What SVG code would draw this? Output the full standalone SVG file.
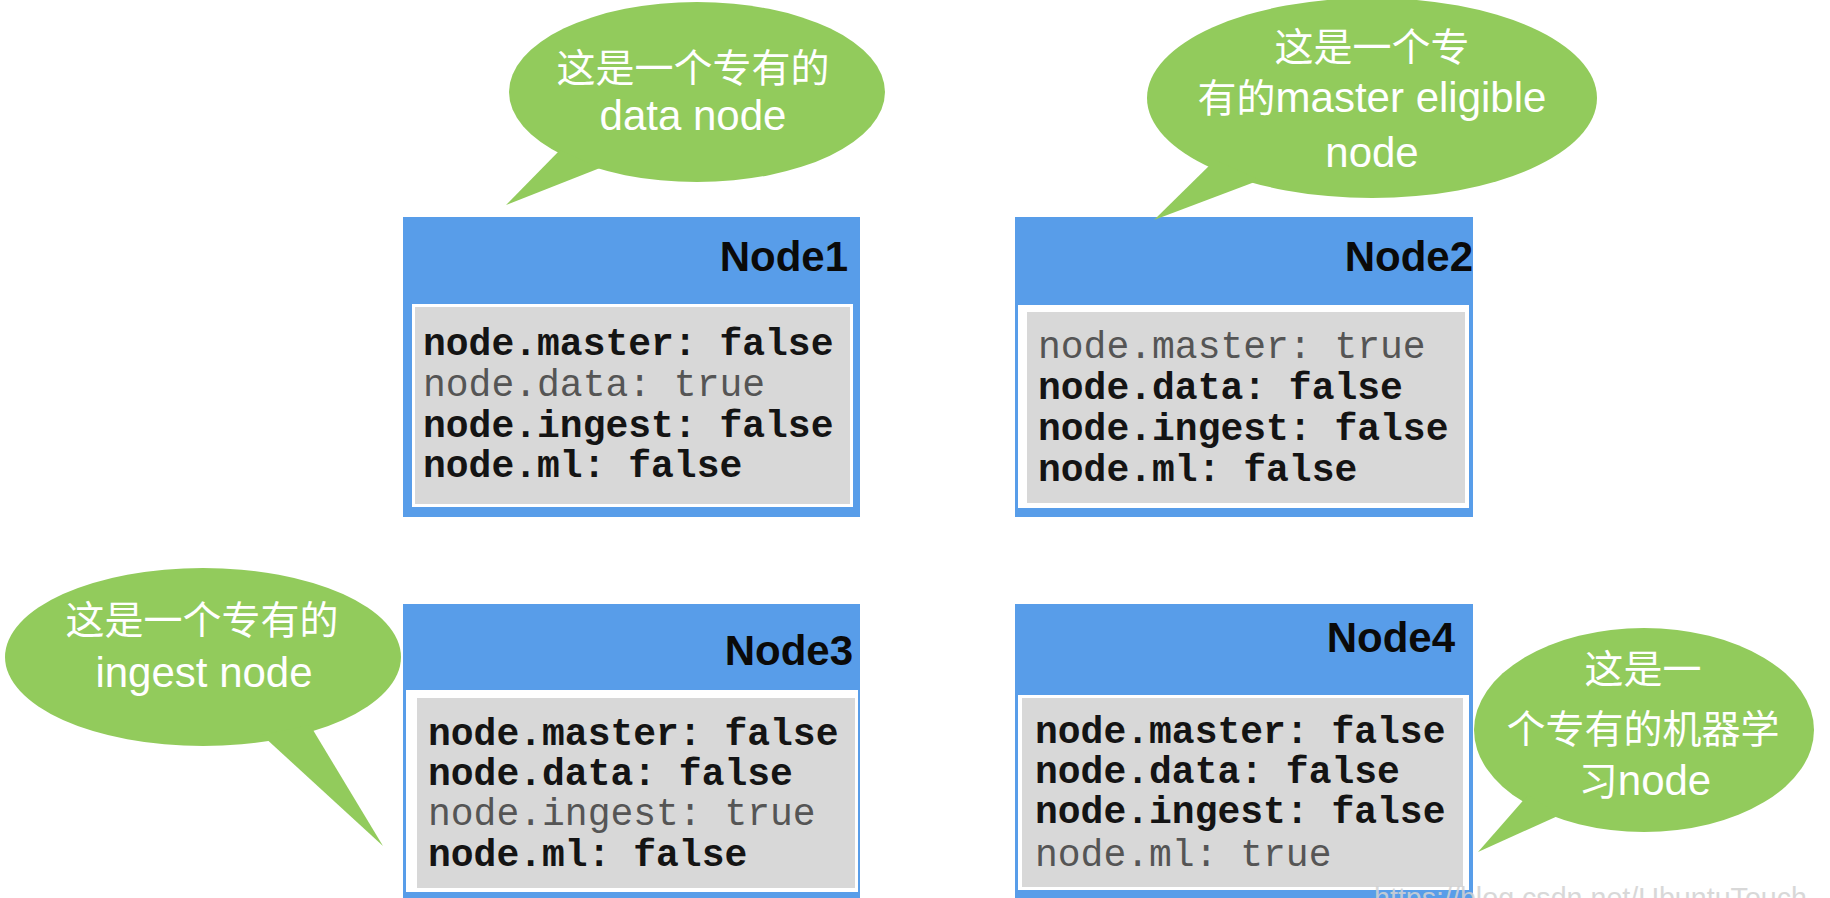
<svg xmlns="http://www.w3.org/2000/svg" width="1830" height="898" viewBox="0 0 1830 898">
<style>
.blue{fill:#589de9}
.wframe{fill:#ffffff}
.grey{fill:#d8d8d8}
.title{font-family:"Liberation Sans",Arial,sans-serif;font-weight:bold;font-size:42px;fill:#0a0a0a;text-anchor:end}
.mono{font-family:"Liberation Mono","Courier New",monospace;font-size:38px}
.f{font-weight:bold;fill:#141414}
.t{font-weight:normal;fill:#555555}
.bub{fill:#92cb5c}
.bt{font-family:"Liberation Sans","Noto Sans CJK SC",sans-serif;font-size:42px;fill:#ffffff;text-anchor:middle}
.cj{font-size:39px}
.wm{font-family:"Liberation Sans",Arial,sans-serif;font-size:30px;fill:#d2d2d2;opacity:0.85}
</style>
<rect width="1830" height="898" fill="#ffffff"/>

<g id="connectors"></g>

<g id="node1">
<rect class="blue" x="403" y="217" width="457" height="300"/>
<rect class="wframe" x="412" y="304" width="441" height="203"/>
<rect class="grey" x="415" y="307" width="435" height="197"/>
<text class="title" x="848" y="271">Node1</text>
<text class="mono f" x="423" y="355">node.master: false</text>
<text class="mono t" x="423" y="396">node.data: true</text>
<text class="mono f" x="423" y="437">node.ingest: false</text>
<text class="mono f" x="423" y="477">node.ml: false</text>
</g>

<g id="node2">
<rect class="blue" x="1015" y="217" width="458" height="300"/>
<rect class="wframe" x="1018" y="305" width="451" height="203"/>
<rect class="grey" x="1027" y="312" width="438" height="191"/>
<text class="title" x="1473" y="271">Node2</text>
<text class="mono t" x="1038" y="358">node.master: true</text>
<text class="mono f" x="1038" y="399">node.data: false</text>
<text class="mono f" x="1038" y="440">node.ingest: false</text>
<text class="mono f" x="1038" y="481">node.ml: false</text>
</g>

<g id="node3">
<rect class="blue" x="403" y="604" width="457" height="300"/>
<rect class="wframe" x="406" y="690" width="452" height="202"/>
<rect class="grey" x="417" y="698" width="438" height="190"/>
<text class="title" x="853" y="665">Node3</text>
<text class="mono f" x="428" y="745">node.master: false</text>
<text class="mono f" x="428" y="785">node.data: false</text>
<text class="mono t" x="428" y="825">node.ingest: true</text>
<text class="mono f" x="428" y="866">node.ml: false</text>
</g>

<g id="node4">
<rect class="blue" x="1015" y="604" width="458" height="300"/>
<rect class="wframe" x="1018" y="695" width="451" height="195"/>
<rect class="grey" x="1022" y="698" width="441" height="189"/>
<text class="title" x="1455" y="652">Node4</text>
<text class="mono f" x="1035" y="743">node.master: false</text>
<text class="mono f" x="1035" y="783">node.data: false</text>
<text class="mono f" x="1035" y="823">node.ingest: false</text>
<text class="mono t" x="1035" y="866">node.ml: true</text>
</g>

<g id="bubble1">
<ellipse class="bub" cx="697" cy="92" rx="188" ry="90"/>
<polygon class="bub" points="560,150 506,205 600,168"/>
<text class="bt" x="693" y="82"><tspan class="cj">这是一个专有的</tspan></text>
<text class="bt" x="693" y="130">data node</text>
</g>

<g id="bubble2">
<ellipse class="bub" cx="1372" cy="98" rx="225" ry="100"/>
<polygon class="bub" points="1215,160 1154,220 1260,180"/>
<text class="bt" x="1372" y="61"><tspan class="cj">这是一个专</tspan></text>
<text class="bt" x="1372" y="112"><tspan class="cj">有的</tspan>master eligible</text>
<text class="bt" x="1372" y="167">node</text>
</g>

<g id="bubble3">
<ellipse class="bub" cx="203" cy="657" rx="198" ry="89"/>
<polygon class="bub" points="262,735 383,846 310,725"/>
<text class="bt" x="202" y="634"><tspan class="cj">这是一个专有的</tspan></text>
<text class="bt" x="204" y="687">ingest node</text>
</g>

<g id="bubble4">
<ellipse class="bub" cx="1644" cy="730" rx="170" ry="102"/>
<polygon class="bub" points="1528,795 1478,852 1560,815"/>
<text class="bt" x="1643" y="683"><tspan class="cj">这是一</tspan></text>
<text class="bt" x="1643" y="743"><tspan class="cj">个专有的机器学</tspan></text>
<text class="bt" x="1645" y="795"><tspan class="cj">习</tspan>node</text>
</g>

<text class="wm" x="1374" y="908" textLength="433" lengthAdjust="spacingAndGlyphs">https://blog.csdn.net/UbuntuTouch</text>
</svg>
